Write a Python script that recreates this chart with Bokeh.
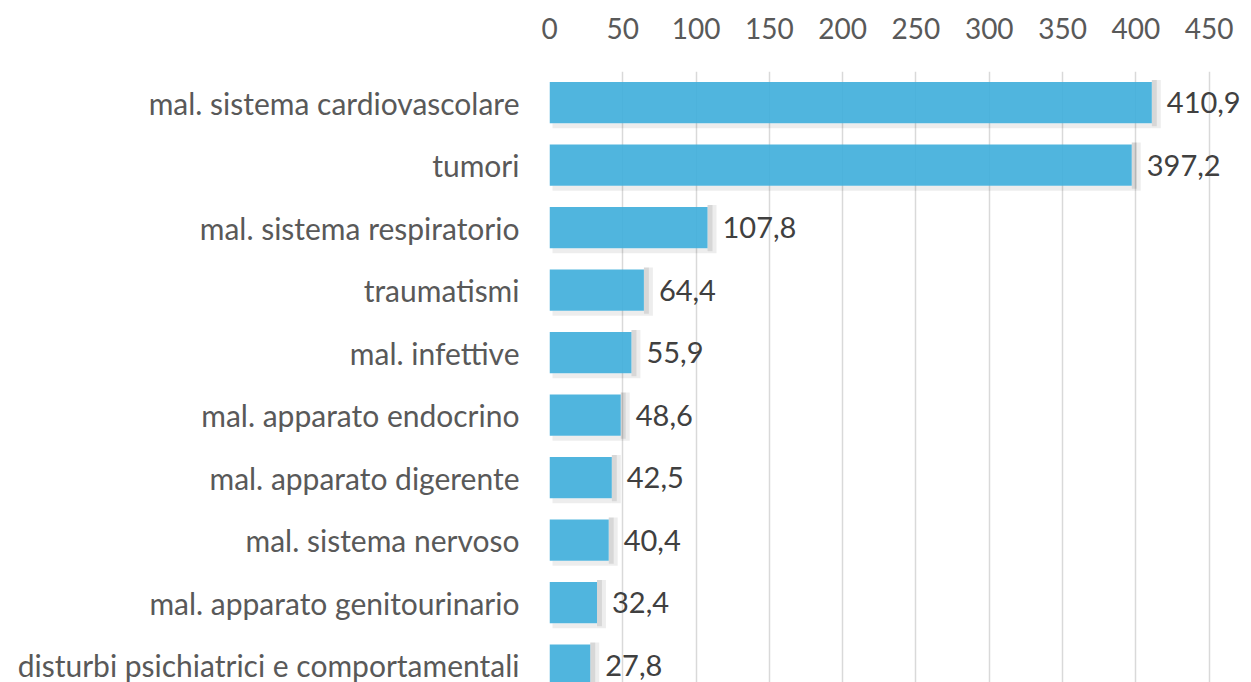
from bokeh.plotting import figure
from bokeh.models import Range1d, FixedTicker, ColumnDataSource
from bokeh.embed import file_html
from bokeh.resources import INLINE
from bokeh.core.properties import value

categories = [
    "mal. sistema cardiovascolare",
    "tumori",
    "mal. sistema respiratorio",
    "traumatismi",
    "mal. infettive",
    "mal. apparato endocrino",
    "mal. apparato digerente",
    "mal. sistema nervoso",
    "mal. apparato genitourinario",
    "disturbi psichiatrici e comportamentali",
]
values = [410.9, 397.2, 107.8, 64.4, 55.9, 48.6, 42.5, 40.4, 32.4, 27.8]
x_ticks = [0, 50, 100, 150, 200, 250, 300, 350, 400, 450]

labels = [f"{v:.1f}".replace(".", ",") for v in values]
pos = list(range(len(categories)))

FONT = "Lato"
BAR_H = 0.66
PX_X = 1 / 1.466   # data units per pixel (x)
PX_Y = 1 / 62.5    # data units per pixel (y)

p = figure(
    width=1251, height=682,
    output_backend="svg", toolbar_location=None,
    x_range=Range1d(0, 478.9), y_range=Range1d(9.277, -0.5),
    x_axis_location="above",
    min_border_left=549, min_border_top=71, min_border_right=0, min_border_bottom=0,
)
p.outline_line_color = None
p.background_fill_color = "white"
p.border_fill_color = "white"

# grid
p.xgrid.ticker = FixedTicker(ticks=x_ticks)
p.xgrid.grid_line_color = "#D9D9D9"
p.xgrid.grid_line_width = 1.5
p.ygrid.grid_line_color = None

# shadows (right strip and bottom strip)
top = [y - BAR_H / 2 for y in pos]
bot = [y + BAR_H / 2 for y in pos]
sh_src = ColumnDataSource(dict(
    r_left=values,
    r_right=[v + 9 * PX_X for v in values],
    r_right2=[v + 5 * PX_X for v in values],
    r_top=[t - 2 * PX_Y for t in top],
    r_bot=[b + 5 * PX_Y for b in bot],
    r_bot2=[b + 3 * PX_Y for b in bot],
    b_left=[3 * PX_X for _ in values],
    b_right=values,
    b_top=bot,
    b_bot=[b + 5 * PX_Y for b in bot],
))
p.quad(left="r_left", right="r_right", top="r_top", bottom="r_bot", source=sh_src,
       fill_color="black", fill_alpha=0.07, line_color=None)
p.quad(left="r_left", right="r_right2", top="r_top", bottom="r_bot2", source=sh_src,
       fill_color="black", fill_alpha=0.09, line_color=None)
p.quad(left="b_left", right="b_right", top="b_top", bottom="b_bot", source=sh_src,
       fill_color="black", fill_alpha=0.07, line_color=None)

# bars
p.hbar(y=pos, right=values, left=0, height=BAR_H,
       fill_color="#41AFDB", fill_alpha=0.92, line_color=None)

# value labels
p.text(x=values, y=pos, text=labels, x_offset=15, text_align="left",
       text_baseline="middle", text_font=value(FONT), text_font_size="29px",
       text_color="#404040")

# x axis (top)
xa = p.xaxis[0]
xa.ticker = FixedTicker(ticks=x_ticks)
xa.axis_line_color = None
xa.major_tick_line_color = None
xa.minor_tick_line_color = None
xa.major_tick_out = 0
xa.major_tick_in = 0
xa.major_label_standoff = 33
xa.major_label_text_font = FONT
xa.major_label_text_font_size = "28px"
xa.major_label_text_color = "#595959"

# y axis (categories)
ya = p.yaxis[0]
ya.ticker = FixedTicker(ticks=pos)
ya.major_label_overrides = {i: c for i, c in zip(pos, categories)}
ya.axis_line_color = None
ya.major_tick_line_color = None
ya.minor_tick_line_color = None
ya.major_tick_out = 0
ya.major_tick_in = 0
ya.major_label_standoff = 30
ya.major_label_text_font = FONT
ya.major_label_text_font_size = "30px"
ya.major_label_text_color = "#595959"

open("out.html", "w").write(file_html(p, INLINE))
